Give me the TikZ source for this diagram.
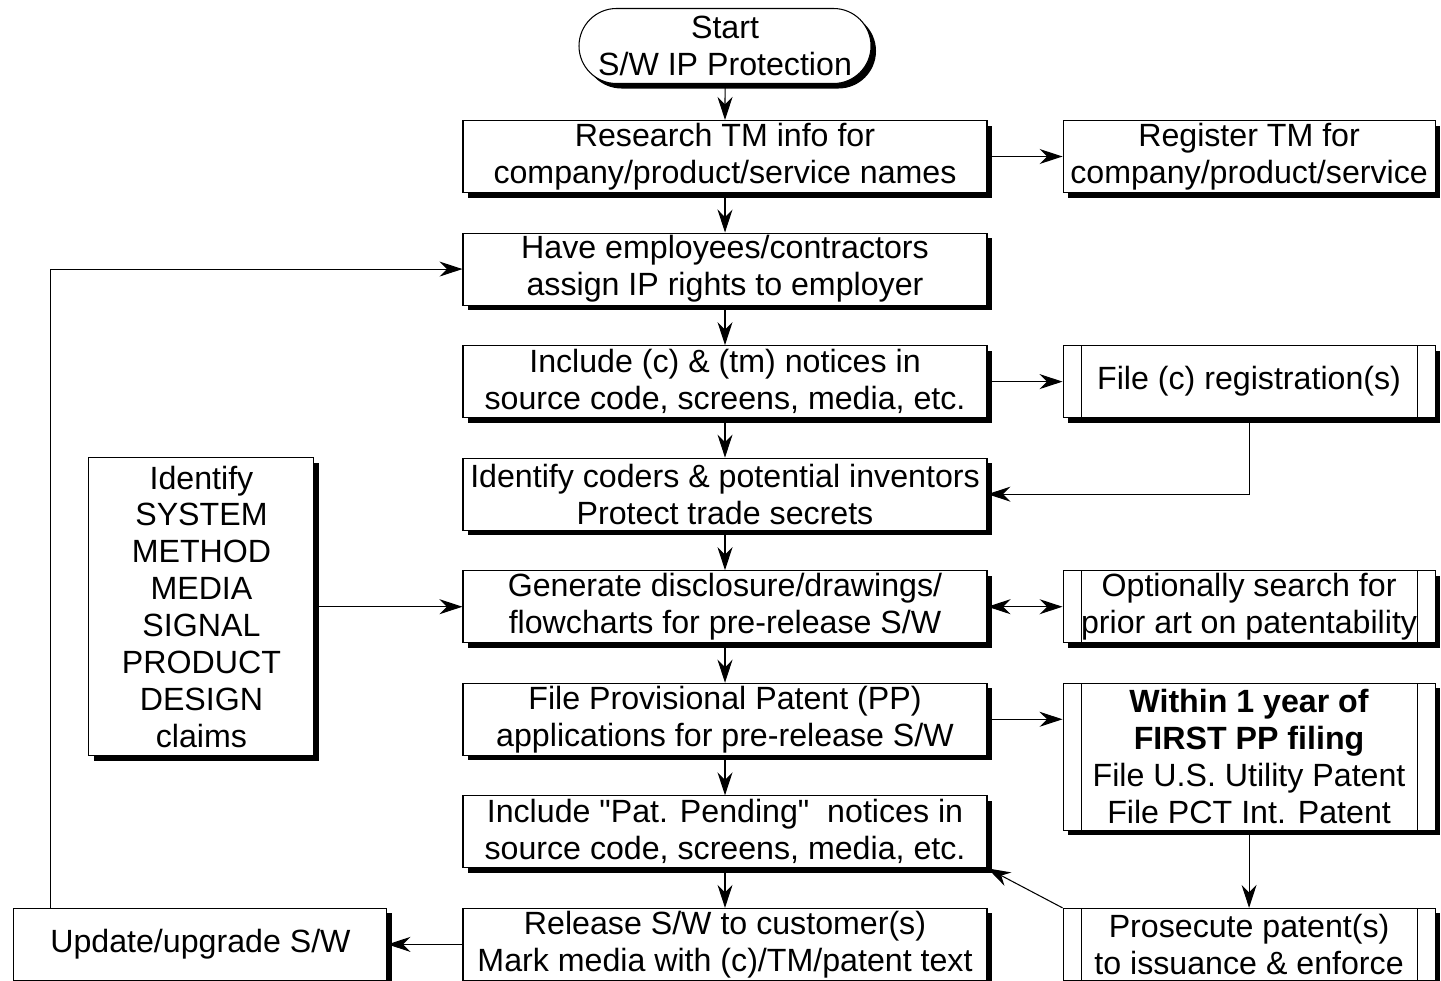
\documentclass[tikz,border=0pt]{standalone}
\usepackage{fontspec}
\setmainfont{Liberation Sans}[Ligatures=TeXOff]
\usetikzlibrary{arrows.meta,positioning,shapes.misc,shadows}

\begin{document}
\begin{tikzpicture}[
  font=\fontsize{18.3}{21}\selectfont,
  line width=.6pt,
  shbox/.style={draw,fill=white,align=center,inner sep=.05cm,
    drop shadow={shadow xshift=.1cm,shadow yshift=-.1cm,fill=black,opacity=1}},
  mainbox/.style={shbox,minimum width=10.48cm,minimum height=1.44cm},
  sidebox/.style={shbox,minimum width=7.44cm,minimum height=1.44cm},
  ppbox/.style={sidebox,path picture={
    \draw ([xshift=.36cm]path picture bounding box.north west)
      -- ([xshift=.36cm]path picture bounding box.south west);
    \draw ([xshift=-.36cm]path picture bounding box.north east)
      -- ([xshift=-.36cm]path picture bounding box.south east);}},
  termbox/.style={shbox,rounded rectangle,minimum width=5.94cm,minimum height=1.5cm},
  flow/.style={-{Stealth[length=.46cm,width=.3cm,inset=.15cm]}},
  flow2/.style={{Stealth[length=.46cm,width=.3cm,inset=.15cm]}-{Stealth[length=.46cm,width=.3cm,inset=.15cm]}}]
\useasboundingbox (0,0) rectangle (28.82,-19.6);

\node[termbox] (start) at (14.5,-.92) {Start\\S/W IP Protection};
\node[mainbox] (research) at (14.5,-3.13) {Research TM info for\\company/product/service names};
\node[mainbox,below=.79cm of research] (have) {Have employees/contractors\\assign IP rights to employer};
\node[mainbox,below=.79cm of have] (include) {Include (c) \& (tm) notices in\\source code, screens, media, etc.};
\node[mainbox,below=.79cm of include] (coders) {Identify coders \& potential inventors\\Protect trade secrets};
\node[mainbox,below=.79cm of coders] (generate) {Generate disclosure/drawings/\\flowcharts for pre-release S/W};
\node[mainbox,below=.79cm of generate] (fileprov) {File Provisional Patent (PP)\\applications for pre-release S/W};
\node[mainbox,below=.79cm of fileprov] (pending) {Include "Pat. Pending"~ notices in\\source code, screens, media, etc.};
\node[mainbox,below=.79cm of pending] (release) {Release S/W to customer(s)\\Mark media with (c)/TM/patent text};

\node[sidebox,right=1.5cm of research] (register) {Register TM for\\company/product/service};
\node[ppbox,right=1.5cm of include] (filec) {File (c) registration(s)};
\node[ppbox,right=1.5cm of generate] (search) {Optionally search for\\prior art on patentability};
\node[ppbox,minimum height=2.94cm,anchor=north west] (within)
  at ([xshift=1.5cm]fileprov.north east)
  {\textbf{Within 1 year of}\\\textbf{FIRST PP filing}\\File U.S. Utility Patent\\File PCT Int. Patent};
\node[ppbox,right=1.5cm of release] (prosecute) {Prosecute patent(s)\\to issuance \& enforce};

\node[shbox,minimum width=4.5cm,minimum height=5.96cm,left=2.96cm of generate] (claims)
  {Identify\\SYSTEM\\METHOD\\MEDIA\\SIGNAL\\PRODUCT\\DESIGN\\claims};
\node[shbox,minimum width=7.46cm,minimum height=1.44cm,left=1.5cm of release] (update) {Update/upgrade S/W};

\draw[flow] (start) -- (research);
\draw[flow] (research) -- (have);
\draw[flow] (have) -- (include);
\draw[flow] (include) -- (coders);
\draw[flow] (coders) -- (generate);
\draw[flow] (generate) -- (fileprov);
\draw[flow] (fileprov) -- (pending);
\draw[flow] (pending) -- (release);
\draw[flow] (research) -- (register);
\draw[flow] (include) -- (filec);
\draw[flow] (filec.south) |- (coders.east);
\draw[flow2] (generate) -- (search);
\draw[flow] (claims) -- (generate);
\draw[flow] (fileprov) -- (fileprov -| within.west);
\draw[flow] (within) -- (prosecute);
\draw[flow] (prosecute.north west) -- (pending.south east);
\draw[flow] (release) -- (update);
\draw[flow] ([xshift=.74cm]update.north west) |- (have.west);
\end{tikzpicture}
\end{document}
